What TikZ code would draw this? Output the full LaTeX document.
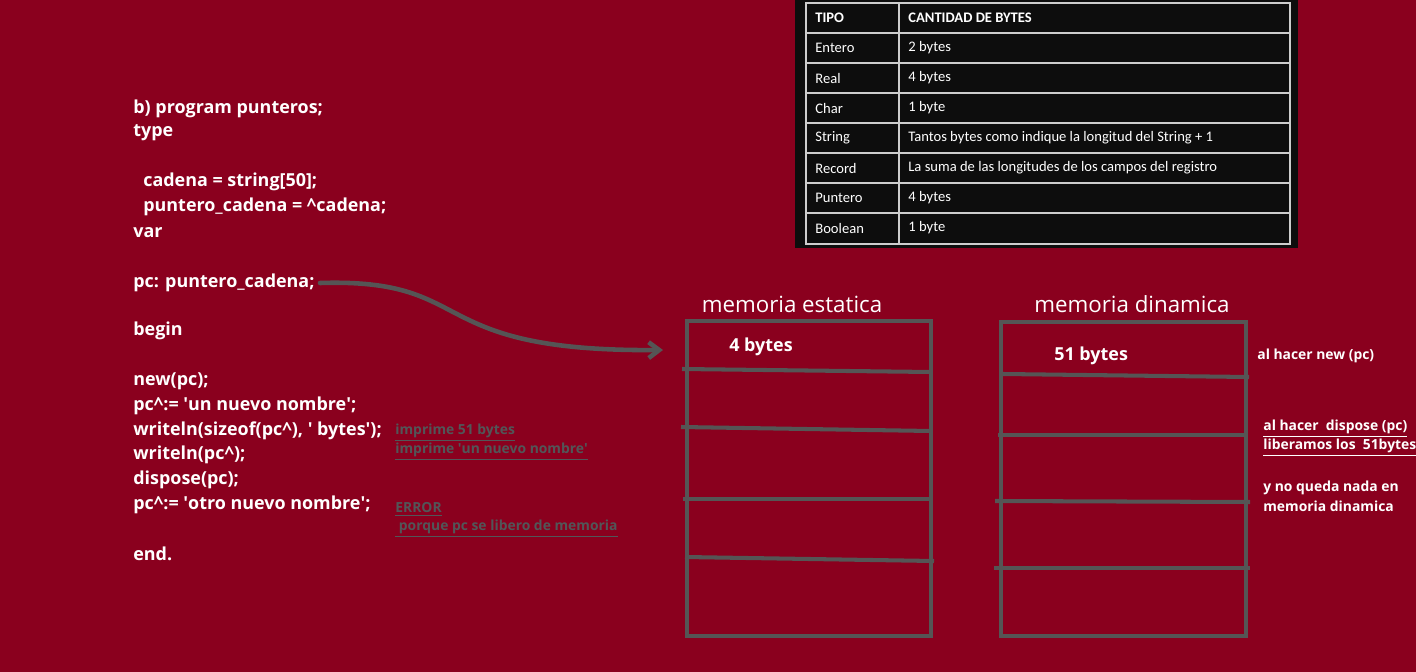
\documentclass[tikz,border=0pt]{standalone}
\usepackage{fontspec}
\setmainfont{Open Sans}
\newfontfamily\tablefont{Carlito}
\usepackage{tikz}
\usetikzlibrary{arrows.meta}
\definecolor{wine}{RGB}{138,0,30}
\definecolor{chalk}{RGB}{85,85,85}
\definecolor{note}{RGB}{82,86,88}
\definecolor{grid}{RGB}{205,205,205}
\tikzset{
  code/.style={anchor=west, inner sep=0pt, yshift=-1.2pt, white, font=\bfseries\fontsize{10.2}{12}\selectfont},
  remark/.style={anchor=west, inner sep=0pt, yshift=-0.8pt, note, font=\bfseries\fontsize{7.9}{9}\selectfont},
  sidenote/.style={anchor=west, inner sep=0pt, yshift=-0.8pt, white, font=\bfseries\fontsize{7.9}{9}\selectfont},
  title/.style={inner sep=0pt, white, font=\fontsize{12.7}{14}\selectfont},
  cell/.style={anchor=west, inner sep=0pt, white, font=\tablefont\fontsize{8.3}{10}\selectfont},
  head/.style={cell, font=\tablefont\bfseries\fontsize{8.3}{10}\selectfont},
  slot/.style={draw=chalk, line width=2.3pt},
  gridline/.style={draw=grid, line width=1.2pt},
  pointer/.style={draw=chalk, line width=2.6pt, line cap=round, -{Straight Barb[length=6pt,width=9pt]}}
}
\newcommand{\undl}[1]{\underline{#1}}

\begin{document}
\begin{tikzpicture}[x=0.02cm, y=-0.02cm]
  \fill[wine] (0,0) rectangle (1416,672);
  \useasboundingbox (0,0) rectangle (1416,672);

  % table of sizes
  \fill[black!95] (795,0) rectangle (1298,248);
  \draw[gridline] (806,3) rectangle (1290,244);
  \draw[gridline] (899,3) -- (899,244);
  \draw[gridline] (806,33) -- (1290,33);
  \draw[gridline] (806,63) -- (1290,63);
  \draw[gridline] (806,93) -- (1290,93);
  \draw[gridline] (806,123) -- (1290,123);
  \draw[gridline] (806,153) -- (1290,153);
  \draw[gridline] (806,183) -- (1290,183);
  \draw[gridline] (806,213) -- (1290,213);
  \node[head] (tipo) at (815,18) {TIPO};
  \node[head] (cant) at (908,18) {CANTIDAD DE BYTES};
  \node[cell] (t1) at (815,48) {Entero};
  \node[cell] (c1) at (908,48) {2 bytes};
  \node[cell] (t2) at (815,78) {Real};
  \node[cell] (c2) at (908,78) {4 bytes};
  \node[cell] (t3) at (815,108) {Char};
  \node[cell] (c3) at (908,108) {1 byte};
  \node[cell] (t4) at (815,138) {String};
  \node[cell] (c4) at (908,138) {Tantos bytes como indique la longitud del String + 1};
  \node[cell] (t5) at (815,168) {Record};
  \node[cell] (c5) at (908,168) {La suma de las longitudes de los campos del registro};
  \node[cell] (t6) at (815,198) {Puntero};
  \node[cell] (c6) at (908,198) {4 bytes};
  \node[cell] (t7) at (815,228) {Boolean};
  \node[cell] (c7) at (908,228) {1 byte};

  % program
  \node[code] (prog) at (133,107) {b) program punteros;};
  \node[code] (type) at (133,131) {type};
  \node[code] (cad) at (143,180) {cadena = string[50];};
  \node[code] (pcad) at (143,205) {puntero\_cadena = \textasciicircum cadena;};
  \node[code] (var) at (133,230) {var};
  \node[code] (decl) at (133,281) {pc: puntero\_cadena;};
  \node[code] (begin) at (133,329) {begin};
  \node[code] (new) at (133,379) {new(pc);};
  \node[code] (asig) at (133,404) {pc\textasciicircum:= \textquotesingle un nuevo nombre\textquotesingle;};
  \node[code] (size) at (133,429) {writeln(sizeof(pc\textasciicircum), \textquotesingle\ bytes\textquotesingle);};
  \node[code] (wrt) at (133,453) {writeln(pc\textasciicircum);};
  \node[code] (disp) at (133,478) {dispose(pc);};
  \node[code] (asig2) at (133,503) {pc\textasciicircum:= \textquotesingle otro nuevo nombre\textquotesingle;};
  \node[code] (end) at (133,552) {end.};

  % remarks on the program
  \node[remark] (r1) at (395,431) {\undl{imprime 51 bytes}};
  \node[remark] (r2) at (395,450) {\undl{imprime \textquotesingle un nuevo nombre\textquotesingle}};
  \node[remark] (r3) at (395,508) {\undl{ERROR}};
  \node[remark] (r4) at (395,527) {\undl{\ porque pc se libero de memoria}};

  % static memory
  \node[title] (est) at (792,304) {memoria estatica};
  \draw[slot] (687,321) rectangle (931,636);
  \draw[slot] (682,369) -- (931,372);
  \draw[slot] (681,427) -- (931,431);
  \draw[slot] (683,499) -- (931,499);
  \draw[slot] (685,557) -- (934,561);
  \node[code] (cuatro) at (729,345) {4 bytes};

  % dynamic memory
  \node[title] (din) at (1132,304) {memoria dinamica};
  \draw[slot] (1001,322) rectangle (1246,636);
  \draw[slot] (1003,374) -- (1249,377);
  \draw[slot] (998,435) -- (1247,435);
  \draw[slot] (995,501) -- (1250,502);
  \draw[slot] (994,568) -- (1250,568);
  \node[code] (cincuenta) at (1054,354) {51 bytes};

  % notes on the dynamic memory
  \node[sidenote] (n1) at (1257,354) {al hacer new (pc)};
  \node[sidenote] (n2) at (1263,427) {\undl{al hacer\ \ dispose (pc)}};
  \node[sidenote] (n3) at (1263,446) {\undl{liberamos los\ \ 51bytes}};
  \node[sidenote] (n4) at (1263,486) {y no queda nada en};
  \node[sidenote] (n5) at (1263,505) {memoria dinamica};

  % pointer arrow
  \coordinate (from) at (320,283);
  \coordinate (to) at (663,350);
  \draw[pointer] (from) .. controls (480,278) and (420,352) .. (to);
\end{tikzpicture}
\end{document}
